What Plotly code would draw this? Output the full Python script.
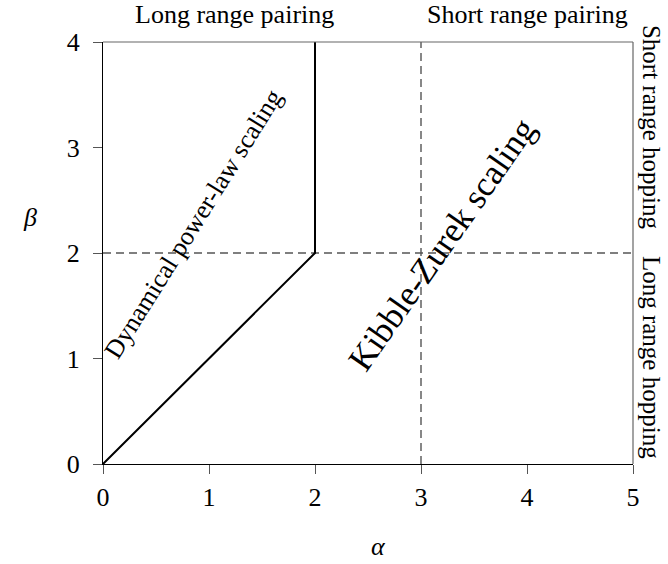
import plotly.graph_objects as go

# Phase boundary between the two scaling regimes
boundary_alpha = [0, 2, 2]
boundary_beta = [0, 2, 4]

# Crossover lines: pairing range (alpha = 3) and hopping range (beta = 2)
alpha_cross = 3
beta_cross = 2
alpha_range = [0, 5]
beta_range = [0, 4]

x_ticks = [0, 1, 2, 3, 4, 5]
y_ticks = [0, 1, 2, 3, 4]

FONT = "Liberation Serif"
TXT = 26

fig = go.Figure()

fig.add_trace(go.Scatter(
    x=alpha_range, y=[beta_cross, beta_cross], mode="lines",
    line=dict(color="#555555", width=1.4, dash="8px,5px"), hoverinfo="skip"))
fig.add_trace(go.Scatter(
    x=[alpha_cross, alpha_cross], y=beta_range, mode="lines",
    line=dict(color="#555555", width=1.4, dash="8px,5px"), hoverinfo="skip"))
fig.add_trace(go.Scatter(
    x=boundary_alpha, y=boundary_beta, mode="lines",
    line=dict(color="black", width=2), hoverinfo="skip"))

# Frame on top and right
fig.add_shape(type="line", xref="paper", yref="paper", x0=0, x1=1, y0=1, y1=1,
              line=dict(color="#666666", width=1.2))
fig.add_shape(type="line", xref="paper", yref="paper", x0=1, x1=1, y0=0, y1=1,
              line=dict(color="#666666", width=1.2))


def label(text, x, y, xref="paper", yref="paper", angle=0, size=TXT):
    return dict(text=text, x=x, y=y, xref=xref, yref=yref, showarrow=False,
                xanchor="center", yanchor="middle", textangle=angle,
                borderpad=0, font=dict(size=size))


annotations = [
    label("Long range pairing", 0.249, 1.064),
    label("Short range pairing", 0.80, 1.064),
    label("Short range hopping", 1.035, 3.19, yref="y", angle=90, size=25),
    label("Long range hopping", 1.035, 1.01, yref="y", angle=90, size=25),
    label("Dynamical power-law scaling", 0.85, 2.27, "x", "y", angle=-58),
    label("Kibble-Zurek scaling", 3.20, 2.08, "x", "y", angle=-55, size=35),
    label("<i>α</i>", 0.52, -0.195),
    label("<i>β</i>", -0.138, 0.585),
]

fig.update_layout(
    width=668, height=564,
    margin=dict(l=103, r=35, t=42, b=100),
    paper_bgcolor="white", plot_bgcolor="white",
    showlegend=False,
    font=dict(family=FONT, color="black"),
    annotations=annotations,
)
fig.update_xaxes(
    range=alpha_range, tickvals=x_ticks, ticktext=[str(v) for v in x_ticks],
    showgrid=False, zeroline=False, showline=True, linecolor="black", linewidth=1.2,
    ticks="outside", ticklen=9, tickcolor="#555555", tickwidth=1,
    tickfont=dict(size=TXT, family=FONT), ticklabelstandoff=1,
)
fig.update_yaxes(
    range=beta_range, tickvals=y_ticks, ticktext=[str(v) for v in y_ticks],
    showgrid=False, zeroline=False, showline=True, linecolor="black", linewidth=1.2,
    ticks="outside", ticklen=9, tickcolor="#555555", tickwidth=1,
    tickfont=dict(size=TXT, family=FONT), ticklabelstandoff=8,
)

fig.write_html("out.html")
